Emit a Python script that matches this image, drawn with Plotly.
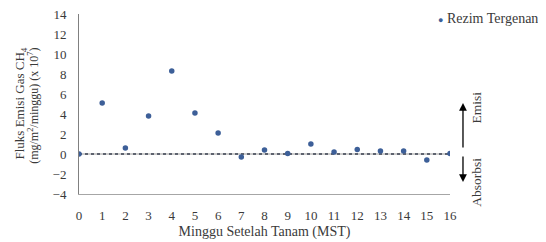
import plotly.graph_objects as go

weeks = list(range(17))
flux = [0.0, 5.1, 0.6, 3.8, 8.3, 4.1, 2.1, -0.3, 0.4, 0.05, 1.0, 0.2, 0.45, 0.3, 0.3, -0.6, 0.05]
series_name = "Rezim Tergenang"
y_ticks = list(range(-4, 15, 2))

FONT = "Times New Roman, Liberation Serif, serif"
TXT = "#3a3a3a"
MARK = "#3d5f98"
fig = go.Figure()
# zero reference line
fig.add_trace(go.Scatter(x=[0, 16], y=[0, 0], mode="lines",
                         line=dict(color="#9a9a9a", width=1), showlegend=False, hoverinfo="skip"))
fig.add_trace(go.Scatter(x=[0, 16], y=[0, 0], mode="lines",
                         line=dict(color="#3a4050", width=1.5, dash="dot"), showlegend=False, hoverinfo="skip"))
fig.add_trace(go.Scatter(x=weeks, y=flux, mode="markers", name=series_name, showlegend=False,
                         marker=dict(color=MARK, size=5.5, symbol="circle")))

fig.update_layout(
    width=546, height=242,
    margin=dict(l=71, r=104, t=6, b=56, autoexpand=False),
    paper_bgcolor="white", plot_bgcolor="white",
    font=dict(family=FONT, size=13, color=TXT),
    showlegend=False,
    xaxis=dict(range=[0, 16], tickmode="array", tickvals=weeks, ticktext=[str(w) for w in weeks],
               showgrid=False, zeroline=False, showline=True, linecolor="#a6a6a6", linewidth=1,
               ticks="", ticklabelstandoff=9, tickfont=dict(family=FONT, size=13, color=TXT),
               title=dict(text="Minggu Setelah Tanam (MST)", font=dict(family=FONT, size=14, color=TXT), standoff=4)),
    yaxis=dict(range=[-4, 14], tickvals=y_ticks, showgrid=False, zeroline=False,
               showline=True, linecolor="#808080", linewidth=1, ticks="", ticklabelstandoff=9,
               ticklabeloverflow="allow",
               tickfont=dict(family=FONT, size=13, color=TXT)),
)

# y-axis title, two lines
fig.add_annotation(xref="paper", yref="y", x=-0.186, y=5.1, text="Fluks Emisi Gas CH<sub>4</sub>",
                   showarrow=False, textangle=-90, font=dict(family=FONT, size=13, color=TXT))
fig.add_annotation(xref="paper", yref="y", x=-0.150, y=4.8,
                   text="(mg/m<sup>2</sup>/minggu) (x 10<sup>7</sup>)",
                   showarrow=False, textangle=-90, font=dict(family=FONT, size=12, color=TXT))

# legend entry (series name)
fig.add_annotation(xref="paper", yref="paper", x=0.962, y=0.975, xanchor="left", yanchor="middle",
                   text=f"<span style='color:{MARK};font-size:9px'>●</span> {series_name}", showarrow=False,
                   font=dict(family=FONT, size=14, color=TXT))

# Emisi / Absorbsi arrows
fig.add_annotation(xref="x domain", yref="y", x=1.035, y=5.1, ax=1.035, ay=0.5, axref="x domain", ayref="y",
                   showarrow=True, arrowhead=2, arrowsize=1.2, arrowwidth=1.3, arrowcolor="#000000", text="")
fig.add_annotation(xref="x domain", yref="y", x=1.035, y=-2.8, ax=1.035, ay=-0.1, axref="x domain", ayref="y",
                   showarrow=True, arrowhead=2, arrowsize=1.2, arrowwidth=1.3, arrowcolor="#000000", text="")
fig.add_annotation(xref="x domain", yref="y", x=1.097, y=4.7, text="Emisi", showarrow=False, textangle=-90,
                   font=dict(family=FONT, size=13.5, color=TXT))
fig.add_annotation(xref="x domain", yref="y", x=1.095, y=-2.8, text="Absorbsi", showarrow=False, textangle=-90,
                   font=dict(family=FONT, size=13.5, color=TXT))

fig.write_html("out.html")
